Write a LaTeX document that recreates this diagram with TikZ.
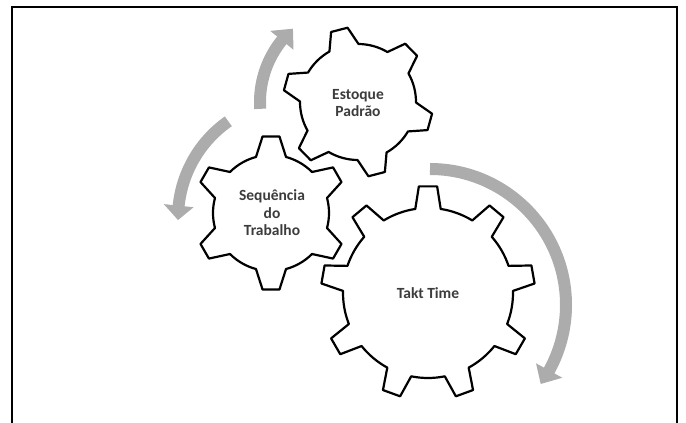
\documentclass[tikz,border=0pt]{standalone}
\usepackage{fontspec}
\newfontfamily\carl{Carlito}
\definecolor{arrowgray}{RGB}{172,172,172}
\definecolor{textgray}{RGB}{60,60,60}
\newcommand{\drawgear}[8]{%
  \begin{scope}[shift={(#1,#2)}]
    \draw[gearline] (#6+#7:#4)
      \foreach \k [evaluate=\k as \a using #6-(\k-1)*360/#3] in {1,...,#3} {
        -- (\a+#8:#5) -- (\a-#8:#5) -- (\a-#7:#4)
        arc[start angle=\a-#7, end angle=\a-360/#3+#7, radius=#4pt]
      } -- cycle;
  \end{scope}}
\begin{document}
\begin{tikzpicture}[x=1pt,y=1pt,
  gearline/.style={draw=black, fill=white, line width=2.2pt, line join=round},
  shaft/.style={draw=arrowgray, line width=12pt},
  head/.style={fill=arrowgray},
  label/.style={font=\carl\bfseries\fontsize{15.5}{17.5}\selectfont, text=textgray, align=center}]
\useasboundingbox (0,0) rectangle (686,423);
% frame
\draw[line width=2pt] (11.5,0) -- (11.5,416) -- (677,416) -- (677,0);
% arrow centres
\coordinate (cA) at (296,205);
\coordinate (cB) at (358,321);
\coordinate (cC) at (430,118);
% arrow 1 (left)
\draw[shaft] (cA) ++(125:118) arc[start angle=125, end angle=174.5, radius=118pt];
\fill[head] ([shift={(174:103)}]cA) -- ([shift={(181:118)}]cA) -- ([shift={(174:133)}]cA) -- cycle;
% arrow 2 (top)
\draw[shaft] (cB) ++(184:98) arc[start angle=184, end angle=140.5, radius=98pt];
\fill[head] ([shift={(141:83)}]cB) -- ([shift={(131.6:98)}]cB) -- ([shift={(141:113)}]cB) -- cycle;
% arrow 3 (right)
\draw[shaft] (cC) ++(90:136) arc[start angle=90, end angle=-29.2, radius=136pt];
\fill[head] ([shift={(-28.8:121)}]cC) -- ([shift={(-35.5:136)}]cC) -- ([shift={(-28.8:151)}]cC) -- cycle;
% gears
\drawgear{271}{210}{6}{58}{77}{90}{15}{6.3}
\drawgear{358}{321}{6}{58}{75}{104.5}{15}{6.5}
\drawgear{428}{130}{9}{85}{107}{90}{8.6}{4.9}
% labels
\node[label] (estoque) at (358,320) {Estoque\\Padrão};
\node[label] (seq) at (272,210) {Sequência\\do\\Trabalho};
\node[label] (takt) at (428,130) {Takt Time};
\end{tikzpicture}
\end{document}
